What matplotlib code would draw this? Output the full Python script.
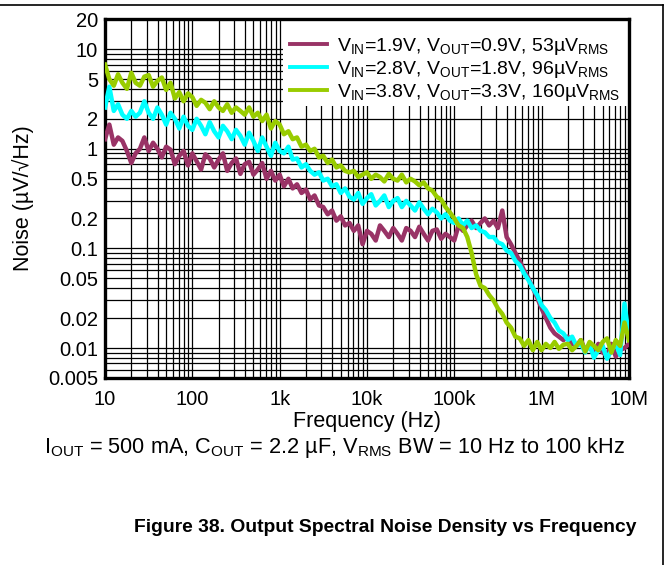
import matplotlib.pyplot as plt
from matplotlib import ticker, font_manager
from matplotlib.lines import Line2D
from matplotlib.patches import Rectangle

# Frequency points (Hz)
freq_hz = [
    10, 11.2, 12.6, 14.1, 15.8, 17.8, 20, 22.4, 25.1, 28.2,
    31.6, 35.5, 39.8, 44.7, 50.1, 56.2, 63.1, 70.8, 79.4, 89.1,
    100, 112, 126, 141, 158, 178, 200, 224, 251, 282,
    316, 355, 398, 447, 501, 562, 631, 708, 794, 891,
    1.00e3, 1.12e3, 1.26e3, 1.41e3, 1.58e3, 1.78e3, 2.00e3, 2.24e3, 2.51e3, 2.82e3,
    3.16e3, 3.55e3, 3.98e3, 4.47e3, 5.01e3, 5.62e3, 6.31e3, 7.08e3, 7.94e3, 8.91e3,
    1.00e4, 1.12e4, 1.26e4, 1.41e4, 1.58e4, 1.78e4, 2.00e4, 2.24e4, 2.51e4, 2.82e4,
    3.16e4, 3.55e4, 3.98e4, 4.47e4, 5.01e4, 5.62e4, 6.31e4, 7.08e4, 7.94e4, 8.91e4,
    1.00e5, 1.12e5, 1.26e5, 1.41e5, 1.58e5, 1.78e5, 2.00e5, 2.24e5, 2.51e5, 2.82e5,
    3.16e5, 3.55e5, 3.98e5, 4.47e5, 5.01e5, 5.62e5, 6.31e5, 7.08e5, 7.94e5, 8.91e5,
    1.00e6, 1.12e6, 1.26e6, 1.41e6, 1.58e6, 1.78e6, 2.00e6, 2.24e6, 2.51e6, 2.82e6,
    3.16e6, 3.55e6, 3.98e6, 4.47e6, 5.01e6, 5.62e6, 6.31e6, 7.08e6, 7.94e6, 8.91e6,
    1.00e7,
]

# Noise density (uV/rtHz), VIN=1.9V, VOUT=0.9V
noise_09v = [
    1.25, 1.75, 1.1, 1.3, 1.2, 0.95, 0.72, 0.9, 1.0, 1.3,
    0.95, 1.15, 1.0, 0.82, 1.05, 0.98, 0.7, 0.85, 0.95, 0.68,
    0.9, 0.75, 0.62, 0.88, 0.8, 0.65, 0.78, 0.9, 0.6, 0.72,
    0.8, 0.56, 0.7, 0.74, 0.55, 0.62, 0.72, 0.5, 0.6, 0.48,
    0.55, 0.42, 0.5, 0.4, 0.44, 0.36, 0.39, 0.31, 0.34, 0.27,
    0.26, 0.22, 0.24, 0.19, 0.21, 0.17, 0.18, 0.15, 0.17, 0.11,
    0.15, 0.14, 0.12, 0.17, 0.15, 0.13, 0.16, 0.14, 0.12, 0.16,
    0.15, 0.13, 0.165, 0.14, 0.12, 0.15, 0.155, 0.125, 0.14, 0.13,
    0.12, 0.17, 0.15, 0.17, 0.19, 0.16, 0.18, 0.2, 0.17, 0.19,
    0.16, 0.24, 0.13, 0.11, 0.09, 0.075, 0.06, 0.05, 0.04, 0.032,
    0.025, 0.02, 0.016, 0.014, 0.013, 0.012, 0.013, 0.011, 0.0105, 0.012,
    0.0095, 0.0105, 0.0085, 0.011, 0.009, 0.0085, 0.011, 0.0082, 0.0095, 0.01,
    0.011,
]

# VIN=2.8V, VOUT=1.8V
noise_18v = [
    2.6, 4.2, 2.4, 2.8, 2.2, 2.0, 2.4, 2.1, 2.3, 3.0,
    2.3, 2.0, 2.6, 2.2, 1.75, 2.3, 2.0, 1.6, 2.1, 1.7,
    1.55, 2.0, 1.7, 1.4, 1.85, 1.5, 1.3, 1.7, 1.5, 1.25,
    1.55, 1.35, 1.1, 1.45, 1.2, 0.95, 1.3, 1.05, 0.85, 1.15,
    0.95, 0.9, 1.05, 0.78, 0.8, 0.65, 0.7, 0.6, 0.55, 0.58,
    0.48, 0.5, 0.42, 0.44, 0.36, 0.4, 0.33, 0.31, 0.36, 0.28,
    0.32, 0.35, 0.27, 0.3, 0.34, 0.26, 0.3, 0.32, 0.26, 0.3,
    0.27, 0.24, 0.29, 0.25, 0.22, 0.25, 0.23, 0.2, 0.22, 0.19,
    0.18, 0.2, 0.17, 0.19, 0.16, 0.17, 0.15, 0.145, 0.13, 0.13,
    0.115, 0.11, 0.095, 0.09, 0.075, 0.068, 0.056, 0.048, 0.04, 0.034,
    0.027, 0.024, 0.02, 0.018, 0.015, 0.014, 0.012, 0.013, 0.0105, 0.011,
    0.009, 0.011, 0.008, 0.0095, 0.0105, 0.0078, 0.0095, 0.011, 0.0085, 0.028,
    0.013,
]

# VIN=3.8V, VOUT=3.3V
noise_33v = [
    7.0, 5.0, 4.3, 5.6, 4.6, 4.0, 5.8, 4.6, 4.3, 5.3,
    5.5, 4.2, 4.8, 5.2, 3.9, 4.6, 3.2, 3.7, 3.0, 3.6,
    3.3, 2.7, 3.1, 2.9, 2.5, 3.0, 2.6, 2.4, 2.8, 2.3,
    2.6, 2.4, 2.2, 2.6, 2.1, 2.3, 1.9, 2.2, 1.6, 1.9,
    1.75, 1.4, 1.5, 1.25, 1.3, 1.05, 1.1, 0.95, 1.0, 0.82,
    0.85, 0.72, 0.78, 0.65, 0.68, 0.6, 0.58, 0.6, 0.52, 0.55,
    0.58, 0.5, 0.55, 0.52, 0.47, 0.56, 0.5, 0.48, 0.55, 0.46,
    0.5, 0.47, 0.43, 0.46, 0.4, 0.38, 0.33, 0.31, 0.26, 0.23,
    0.2, 0.17, 0.16, 0.13, 0.09, 0.055, 0.042, 0.04, 0.034, 0.03,
    0.025, 0.022, 0.018, 0.016, 0.013, 0.0125, 0.0105, 0.012, 0.0095, 0.0115,
    0.0095, 0.011, 0.01, 0.0115, 0.0098, 0.0108, 0.011, 0.0095, 0.0105, 0.012,
    0.0092, 0.0115, 0.0105, 0.0095, 0.0115, 0.0125, 0.009, 0.012, 0.0105, 0.018,
    0.012,
]

series_labels = [
    r'V$_{\mathrm{IN}}$=1.9V, V$_{\mathrm{OUT}}$=0.9V, 53µV$_{\mathrm{RMS}}$',
    r'V$_{\mathrm{IN}}$=2.8V, V$_{\mathrm{OUT}}$=1.8V, 96µV$_{\mathrm{RMS}}$',
    r'V$_{\mathrm{IN}}$=3.8V, V$_{\mathrm{OUT}}$=3.3V, 160µV$_{\mathrm{RMS}}$',
]
series_colors = ['#993366', '#00FFFF', '#99CC00']

x_ticks = [10, 100, 1e3, 1e4, 1e5, 1e6, 1e7]
x_labels = ['10', '100', '1k', '10k', '100k', '1M', '10M']
y_ticks = [0.005, 0.01, 0.02, 0.05, 0.1, 0.2, 0.5, 1, 2, 5, 10, 20]
y_labels = ['0.005', '0.01', '0.02', '0.05', '0.1', '0.2', '0.5', '1', '2', '5', '10', '20']

plt.rcParams['font.family'] = ['Liberation Sans', 'DejaVu Sans']
plt.rcParams['mathtext.fontset'] = 'custom'
plt.rcParams['mathtext.rm'] = 'Liberation Sans'
plt.rcParams['mathtext.it'] = 'Liberation Sans:italic'

# narrow font for the notes under the chart, if it exists
font_names = {f.name for f in font_manager.fontManager.ttflist}
has_narrow = 'Liberation Sans Narrow' in font_names
note_family = ['Liberation Sans Narrow', 'Liberation Sans'] if has_narrow else ['Liberation Sans']
note_size = 19 if has_narrow else 15.7
cap_size = 17 if has_narrow else 13.9

fig = plt.figure(figsize=(6.69, 5.65), dpi=100)
ax = fig.add_axes([0.157, 0.331, 0.783, 0.635])

for vals, color, label in zip([noise_09v, noise_18v, noise_33v], series_colors, series_labels):
    ax.plot(freq_hz, vals, color=color, lw=3.2, label=label, zorder=3)

ax.set_xscale('log')
ax.set_yscale('log')
ax.set_xlim(10, 1e7)
ax.set_ylim(0.005, 20)

ax.xaxis.set_major_locator(ticker.FixedLocator(x_ticks))
ax.xaxis.set_major_formatter(ticker.FixedFormatter(x_labels))
ax.xaxis.set_minor_locator(ticker.LogLocator(base=10, subs=(2, 3, 4, 5, 6, 7, 8, 9)))
ax.xaxis.set_minor_formatter(ticker.NullFormatter())
ax.yaxis.set_major_locator(ticker.FixedLocator(y_ticks))
ax.yaxis.set_major_formatter(ticker.FixedFormatter(y_labels))
ax.yaxis.set_minor_locator(ticker.LogLocator(base=10, subs=(2, 3, 4, 5, 6, 7, 8, 9)))
ax.yaxis.set_minor_formatter(ticker.NullFormatter())

ax.set_axisbelow(True)
ax.grid(True, which='both', color='black', lw=0.9)
ax.tick_params(which='both', length=0, labelsize=14.5)
ax.tick_params(axis='x', pad=9)
ax.tick_params(axis='y', pad=5)
for sp in ax.spines.values():
    sp.set_linewidth(2.4)

# white patch behind the legend hides the grid there
ax.add_patch(Rectangle((1.08e3, 2.7), 1e7 - 1.08e3, 20 - 2.7, facecolor='white',
                       edgecolor='none', zorder=1))
leg = ax.legend(loc='upper left', bbox_to_anchor=(0.353, 0.954), frameon=False, fontsize=14,
                handlelength=1.9, handletextpad=0.5, labelspacing=0.1,
                borderaxespad=0, borderpad=0)
for h in leg.get_lines():
    h.set_linewidth(2.8)

ax.set_xlabel('Frequency (Hz)', fontsize=15.5, labelpad=1)
ax.set_ylabel('Noise (µV/√Hz)', fontsize=15.5, labelpad=10)

fig.text(0.5, 1 - 448 / 565,
         r'I$_{\mathrm{OUT}}$ = 500 mA, C$_{\mathrm{OUT}}$ = 2.2 µF, V$_{\mathrm{RMS}}$ BW = 10 Hz to 100 kHz',
         ha='center', va='center', fontsize=note_size, family=note_family)
fig.text(0.576, 1 - 527 / 565, 'Figure 38. Output Spectral Noise Density vs Frequency',
         ha='center', va='center', fontsize=cap_size, weight='bold', family=note_family)

# page frame lines (top and right)
fig.add_artist(Line2D([0, 663 / 669], [1 - 5 / 565, 1 - 5 / 565], transform=fig.transFigure,
                      color='black', lw=1.2))
fig.add_artist(Line2D([663 / 669, 663 / 669], [0, 1 - 5 / 565], transform=fig.transFigure,
                      color='black', lw=1.2))

fig.savefig('out.png', dpi=100)
plt.close(fig)
